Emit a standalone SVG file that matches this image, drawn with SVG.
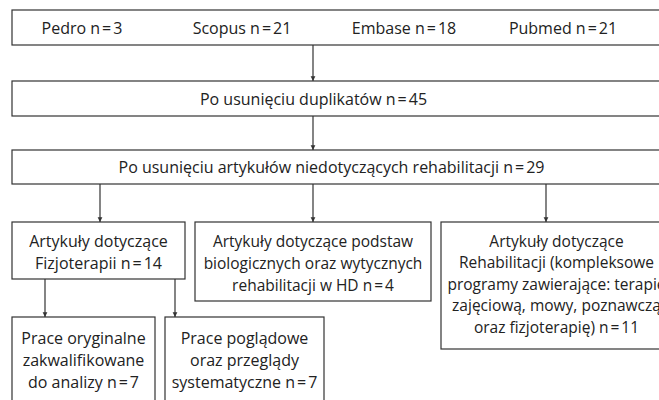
<svg xmlns="http://www.w3.org/2000/svg" width="659" height="400" viewBox="0 0 659 400">
<defs>
<style>
.box{fill:#fff;stroke:#333;stroke-width:1.2}
text{font-family:"Open Sans","Noto Sans","Liberation Sans",sans-serif;font-size:16px;fill:#222;text-anchor:middle}
.sm{font-size:15.5px}
.con line{stroke:#333;stroke-width:1.2}
</style>
<marker id="ah" viewBox="0 0 8 10" refX="8" refY="5" markerWidth="5" markerHeight="6" markerUnits="userSpaceOnUse" orient="auto">
<path d="M0,1 L8,5 L0,9 Z" fill="#333"/>
</marker>
</defs>
<rect width="659" height="400" fill="#fff"/>
<g id="sources">
<rect class="box" x="12" y="10" width="680" height="35"/>
<text x="82" y="33.5">Pedro n<tspan dx="2">=</tspan><tspan dx="2">3</tspan></text>
<text x="242" y="33.5">Scopus n<tspan dx="2">=</tspan><tspan dx="2">21</tspan></text>
<text x="404" y="33.5">Embase n<tspan dx="2">=</tspan><tspan dx="2">18</tspan></text>
<text x="563" y="33.5">Pubmed n<tspan dx="2">=</tspan><tspan dx="2">21</tspan></text>
</g>
<g id="dedup">
<rect class="box" x="12" y="81" width="680" height="35"/>
<text x="313.5" y="104.5">Po usunięciu duplikatów n<tspan dx="2">=</tspan><tspan dx="2">45</tspan></text>
</g>
<g id="relevant">
<rect class="box" x="12" y="150" width="680" height="34"/>
<text x="331.5" y="172.5">Po usunięciu artykułów niedotyczących rehabilitacji n<tspan dx="2">=</tspan><tspan dx="2">29</tspan></text>
</g>
<g id="fizjo">
<rect class="box" x="12" y="222" width="173" height="57"/>
<text x="98.5" y="246.5">Artykuły dotyczące</text>
<text x="98.5" y="268.5">Fizjoterapii n<tspan dx="2">=</tspan><tspan dx="2">14</tspan></text>
</g>
<g id="biol">
<rect class="box" x="195" y="222" width="236" height="79"/>
<text class="sm" x="313" y="246.5">Artykuły dotyczące podstaw</text>
<text class="sm" x="313" y="268.5">biologicznych oraz wytycznych</text>
<text class="sm" x="313" y="290.5">rehabilitacji w HD n<tspan dx="2">=</tspan><tspan dx="2">4</tspan></text>
</g>
<g id="rehab">
<rect class="box" x="441" y="222" width="231" height="127"/>
<text class="sm" x="556.5" y="246.5">Artykuły dotyczące</text>
<text class="sm" x="556.5" y="268">Rehabilitacji (kompleksowe</text>
<text class="sm" x="556.5" y="289.5">programy zawierające: terapię</text>
<text class="sm" x="556.5" y="311">zajęciową, mowy, poznawczą</text>
<text class="sm" x="556.5" y="333">oraz fizjoterapię) n<tspan dx="2">=</tspan><tspan dx="2">11</tspan></text>
</g>
<g id="orig">
<rect class="box" x="12" y="317" width="143" height="100"/>
<text x="83.5" y="343.5">Prace oryginalne</text>
<text x="83.5" y="365.5">zakwalifikowane</text>
<text x="83.5" y="387.5">do analizy n<tspan dx="2">=</tspan><tspan dx="2">7</tspan></text>
</g>
<g id="review">
<rect class="box" x="165" y="317" width="159" height="100"/>
<text x="244.5" y="343.5">Prace poglądowe</text>
<text x="244.5" y="365.5">oraz przeglądy</text>
<text x="244.5" y="387.5">systematyczne n<tspan dx="2">=</tspan><tspan dx="2">7</tspan></text>
</g>
<g id="connectors" class="con">
<line x1="313" y1="45" x2="313" y2="81" marker-end="url(#ah)"/>
<line x1="313" y1="116" x2="313" y2="150" marker-end="url(#ah)"/>
<line x1="100" y1="184" x2="100" y2="222" marker-end="url(#ah)"/>
<line x1="313" y1="184" x2="313" y2="222" marker-end="url(#ah)"/>
<line x1="546" y1="184" x2="546" y2="222" marker-end="url(#ah)"/>
<line x1="45" y1="279" x2="45" y2="317" marker-end="url(#ah)"/>
<line x1="175" y1="279" x2="175" y2="317" marker-end="url(#ah)"/>
</g>
</svg>
